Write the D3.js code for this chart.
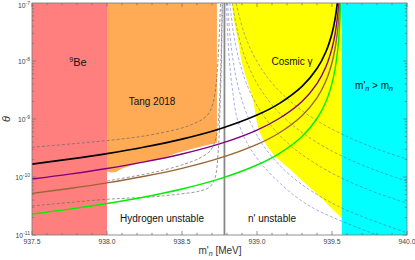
<!DOCTYPE html>
<html>
<head>
<meta charset="utf-8">
<script src="https://cdn.jsdelivr.net/npm/d3@7/dist/d3.min.js"></script>
<style>
  body { margin: 0; background: #fff; }
  svg { display: block; font-family: "Liberation Sans", Arial, sans-serif; }
</style>
</head>
<body>
<div id="chart"></div>
<script>
// ---- values ----
const massTicks = [937.5, 938.0, 938.5, 939.0, 939.5, 940.0];
const thetaTicks = [1e-11, 1e-10, 1e-9, 1e-8, 1e-7];
const thetaExp = ["-11", "-10", "-9", "-8", "-7"];

const beEdge = 938.0;        // 9Be bound
const hydrogenMass = 938.783; // m_p + m_e
const neutronMass = 939.565;

// Tang 2018 region: lower edge
const tangMass  = [938.0, 938.03, 938.06, 938.1, 938.173, 938.3, 938.398, 938.465, 938.62, 938.72, 938.733];
const tangTheta = [1.25e-10, 1.2e-10, 1.22e-10, 1.4e-10, 1.61e-10, 1.95e-10, 2.24e-10, 2.6e-10, 3.33e-10, 3.81e-10, 3.9e-10];

// Cosmic gamma region: left edge (top -> bottom)
const cosmicMass  = [938.833, 938.847, 938.867, 938.907, 938.973, 939.013, 939.087, 939.24, 939.407, 939.565];
const cosmicTheta = [1e-7, 5.1e-8, 2.8e-8, 7.9e-9, 2.13e-9, 6.5e-10, 2.9e-10, 1.22e-10, 4.9e-11, 1.96e-11];

// solid curves
const curveMass = [937.5, 937.75, 938.0, 938.25, 938.5, 938.75, 939.0, 939.15, 939.3, 939.4, 939.46, 939.5, 939.52, 939.54, 939.55, 939.56];
const blackTheta  = [1.67e-10, 2.03e-10, 2.53e-10, 3.29e-10, 4.51e-10, 6.74e-10, 1.17e-9, 1.86e-9, 3.64e-9, 7.4e-9, 1.46e-8, 2.99e-8, 5.2e-8, 1.25e-7, 2.7e-7, 1.4e-6];
const purpleTheta = [9.23e-11, 1.12e-10, 1.4e-10, 1.82e-10, 2.49e-10, 3.72e-10, 6.45e-10, 1.03e-9, 2.01e-9, 4.09e-9, 8.05e-9, 1.65e-8, 2.87e-8, 6.93e-8, 1.49e-7, 7.7e-7];
const brownTheta  = [5.22e-11, 6.34e-11, 7.92e-11, 1.03e-10, 1.41e-10, 2.11e-10, 3.65e-10, 5.8e-10, 1.14e-9, 2.31e-9, 4.56e-9, 9.35e-9, 1.62e-8, 3.92e-8, 8.43e-8, 4.38e-7];
const greenTheta  = [2.3e-11, 2.79e-11, 3.49e-11, 4.53e-11, 6.22e-11, 9.28e-11, 1.61e-10, 2.56e-10, 5.01e-10, 1.02e-9, 2.01e-9, 4.12e-9, 7.16e-9, 1.73e-8, 3.72e-8, 1.93e-7];

// grey dashed contours (left of hydrogen threshold)
const greyUpMass  = [937.5, 937.75, 938.0, 938.25, 938.5, 938.587, 938.64, 938.68, 938.707, 938.727, 938.74, 938.75, 938.757];
const greyUpTheta = [3.25e-10, 3.7e-10, 4.25e-10, 5.1e-10, 7.0e-10, 8.5e-10, 1.0e-9, 1.27e-9, 1.89e-9, 3.86e-9, 1.04e-8, 3.42e-8, 1e-7];
const greyMidMass  = [938.0, 938.187, 938.353, 938.52, 938.62, 938.687, 938.727, 938.747, 938.76, 938.768];
const greyMidTheta = [8.53e-11, 1.04e-10, 1.27e-10, 1.68e-10, 2.13e-10, 2.81e-10, 4.7e-10, 1.43e-9, 1.04e-8, 1e-7];
const greyLoMass  = [937.5, 938.0, 938.287, 938.487, 938.62, 938.687, 938.72, 938.742, 938.753, 938.763, 938.769];
const greyLoTheta = [3.16e-11, 4.13e-11, 4.52e-11, 5.09e-11, 5.74e-11, 6.8e-11, 9.6e-11, 2.92e-10, 1.43e-9, 1.04e-8, 1e-7];

// blue dashed contours (right of hydrogen threshold), one mass list per contour
const blueTheta = [1e-7, 3.16e-8, 1e-8, 3.16e-9, 1e-9, 3.16e-10, 1e-10, 3.16e-11, 1e-11];
const blueMassA = [938.796, 938.804, 938.816, 938.837, 938.869, 938.953, 939.110, 939.351, 939.800];
const blueMassB = [938.804, 938.818, 938.841, 938.880, 938.946, 939.054, 939.235, 939.538, 940.042];
const blueMassC = [938.819, 938.842, 938.882, 938.948, 939.059, 939.243, 939.550, 940.062, 940.917];
const blueMassD = [938.836, 938.871, 938.929, 939.027, 939.190, 939.463, 939.916, 940.673, 941.936];
const blueMassE = [938.860, 938.912, 938.998, 939.142, 939.382, 939.783, 940.450, 941.565, 943.423];

// ---- layout ----
const W = 415, H = 260;
const margin = {top: 3, right: 8, bottom: 25, left: 32};

const x = d3.scaleLinear().domain([937.5, 940.0]).range([margin.left, W - margin.right]);
const y = d3.scaleLog().domain([1e-11, 1e-7]).range([H - margin.bottom, margin.top]);

const svg = d3.select("#chart").append("svg").attr("width", W).attr("height", H);

svg.append("clipPath").attr("id", "plot")
  .append("rect")
  .attr("x", margin.left).attr("y", margin.top)
  .attr("width", W - margin.left - margin.right)
  .attr("height", H - margin.top - margin.bottom);

const g = svg.append("g").attr("clip-path", "url(#plot)");

// regions
g.append("rect")
  .attr("x", x(937.5)).attr("y", y(1e-7))
  .attr("width", x(beEdge) - x(937.5)).attr("height", y(1e-11) - y(1e-7))
  .attr("fill", "#ff7f7f");

const tangPts = [[tangMass[tangMass.length - 1], 1e-7], [beEdge, 1e-7]]
  .concat(tangMass.map((m, i) => [m, tangTheta[i]]));
g.append("path")
  .attr("d", d3.line().x(d => x(d[0])).y(d => y(d[1]))(tangPts) + "Z")
  .attr("fill", "#ffaa55");

const cosmicPts = cosmicMass.map((m, i) => [m, cosmicTheta[i]]);
g.append("path")
  .attr("d", d3.line().x(d => x(d[0])).y(d => y(d[1])).curve(d3.curveCatmullRom)(cosmicPts)
        + "L" + x(neutronMass) + "," + y(1e-7) + "Z")
  .attr("fill", "#ffff00");

g.append("rect")
  .attr("x", x(neutronMass)).attr("y", y(1e-7))
  .attr("width", x(940) - x(neutronMass)).attr("height", y(1e-11) - y(1e-7))
  .attr("fill", "#00ffff");

// dashed contours
const curve = d3.line().x(d => x(d[0])).y(d => y(d[1])).curve(d3.curveCatmullRom);

[[greyUpMass, greyUpTheta], [greyMidMass, greyMidTheta], [greyLoMass, greyLoTheta]].forEach(([ms, ts]) => {
  g.append("path")
    .attr("d", curve(ms.map((m, i) => [m, ts[i]])))
    .attr("fill", "none").attr("stroke", "#666").attr("stroke-opacity", 0.75)
    .attr("stroke-width", 0.9).attr("stroke-dasharray", "3,2");
});

[blueMassA, blueMassB, blueMassC, blueMassD, blueMassE].forEach(ms => {
  g.append("path")
    .attr("d", curve(ms.map((m, i) => [m, blueTheta[i]])))
    .attr("fill", "none").attr("stroke", "#4848c8").attr("stroke-opacity", 0.5)
    .attr("stroke-width", 0.9).attr("stroke-dasharray", "3,2");
});

// hydrogen threshold
g.append("line")
  .attr("x1", x(hydrogenMass)).attr("x2", x(hydrogenMass))
  .attr("y1", y(1e-7)).attr("y2", y(1e-11))
  .attr("stroke", "#888").attr("stroke-width", 1.8);

// solid curves
[[blackTheta, "#000", 1.7], [purpleTheta, "#800080", 1.4], [brownTheta, "#996633", 1.4], [greenTheta, "#00ee00", 1.4]]
  .forEach(([ts, col, w]) => {
    g.append("path")
      .attr("d", curve(curveMass.map((m, i) => [m, ts[i]])))
      .attr("fill", "none").attr("stroke", col).attr("stroke-width", w);
  });

// frame + ticks
const frame = svg.append("g").attr("stroke", "#777").attr("stroke-width", 0.8);
frame.append("rect")
  .attr("x", margin.left).attr("y", margin.top)
  .attr("width", W - margin.left - margin.right)
  .attr("height", H - margin.top - margin.bottom)
  .attr("fill", "none");

const yb = y(1e-11), yt = y(1e-7), xl = x(937.5), xr = x(940);
d3.range(937.5, 940.001, 0.1).forEach(m => {
  const major = massTicks.some(t => Math.abs(t - m) < 1e-6);
  const len = major ? 4 : 2.2;
  frame.append("line").attr("x1", x(m)).attr("x2", x(m)).attr("y1", yb).attr("y2", yb - len);
  frame.append("line").attr("x1", x(m)).attr("x2", x(m)).attr("y1", yt).attr("y2", yt + len);
});
for (let e = -11; e < -7; e++) {
  for (let k = 1; k < 10; k++) {
    const v = k * Math.pow(10, e);
    const len = k === 1 ? 4 : 2.2;
    frame.append("line").attr("x1", xl).attr("x2", xl + len).attr("y1", y(v)).attr("y2", y(v));
    frame.append("line").attr("x1", xr).attr("x2", xr - len).attr("y1", y(v)).attr("y2", y(v));
  }
}

// tick labels
svg.append("g").selectAll("text").data(massTicks).join("text")
  .attr("x", d => x(d)).attr("y", yb + 9)
  .attr("text-anchor", "middle").attr("font-size", 6.8).attr("fill", "#444")
  .text(d => d.toFixed(1));

const yl = svg.append("g").selectAll("text").data(thetaTicks).join("text")
  .attr("x", xl - 2).attr("y", (d, i) => y(d) + (i === thetaTicks.length - 1 ? 4.5 : 2.5))
  .attr("text-anchor", "end").attr("font-size", 6.8).attr("fill", "#444");
yl.append("tspan").text("10");
yl.append("tspan").attr("dy", -2.5).attr("font-size", 5).text((d, i) => thetaExp[i]);

// axis titles
const xt = svg.append("text").attr("x", 220).attr("y", 254)
  .attr("text-anchor", "middle").attr("font-size", 10).attr("fill", "#333");
xt.append("tspan").text("m'");
xt.append("tspan").attr("font-style", "italic").attr("font-size", 7).attr("dy", 2).text("n");
xt.append("tspan").attr("dy", -2).text(" [MeV]");

svg.append("text")
  .attr("transform", "translate(10," + y(1e-9) + ") rotate(-90)")
  .attr("text-anchor", "middle").attr("font-size", 11).attr("font-style", "italic").attr("fill", "#333")
  .text("θ");

// region labels
const lab = svg.append("g").attr("font-size", 10).attr("fill", "#111");
const be = lab.append("text").attr("x", 78).attr("y", 66).attr("text-anchor", "middle");
be.append("tspan").attr("font-size", 7).attr("dy", -4).text("9");
be.append("tspan").attr("dy", 4).attr("font-size", 11).text("Be");

lab.append("text").attr("x", 152).attr("y", 105).attr("text-anchor", "middle").text("Tang 2018");
lab.append("text").attr("x", 292).attr("y", 65).attr("text-anchor", "middle").text("Cosmic γ");

const mm = lab.append("text").attr("x", 374).attr("y", 89).attr("text-anchor", "middle");
mm.append("tspan").text("m'");
mm.append("tspan").attr("font-style", "italic").attr("font-size", 7).attr("dy", 2).text("n");
mm.append("tspan").attr("dy", -2).text(" > m");
mm.append("tspan").attr("font-style", "italic").attr("font-size", 7).attr("dy", 2).text("n");

lab.append("text").attr("x", 162).attr("y", 222).attr("text-anchor", "middle").text("Hydrogen unstable");
lab.append("text").attr("x", 272).attr("y", 222).attr("text-anchor", "middle").text("n' unstable");
</script>
</body>
</html>
